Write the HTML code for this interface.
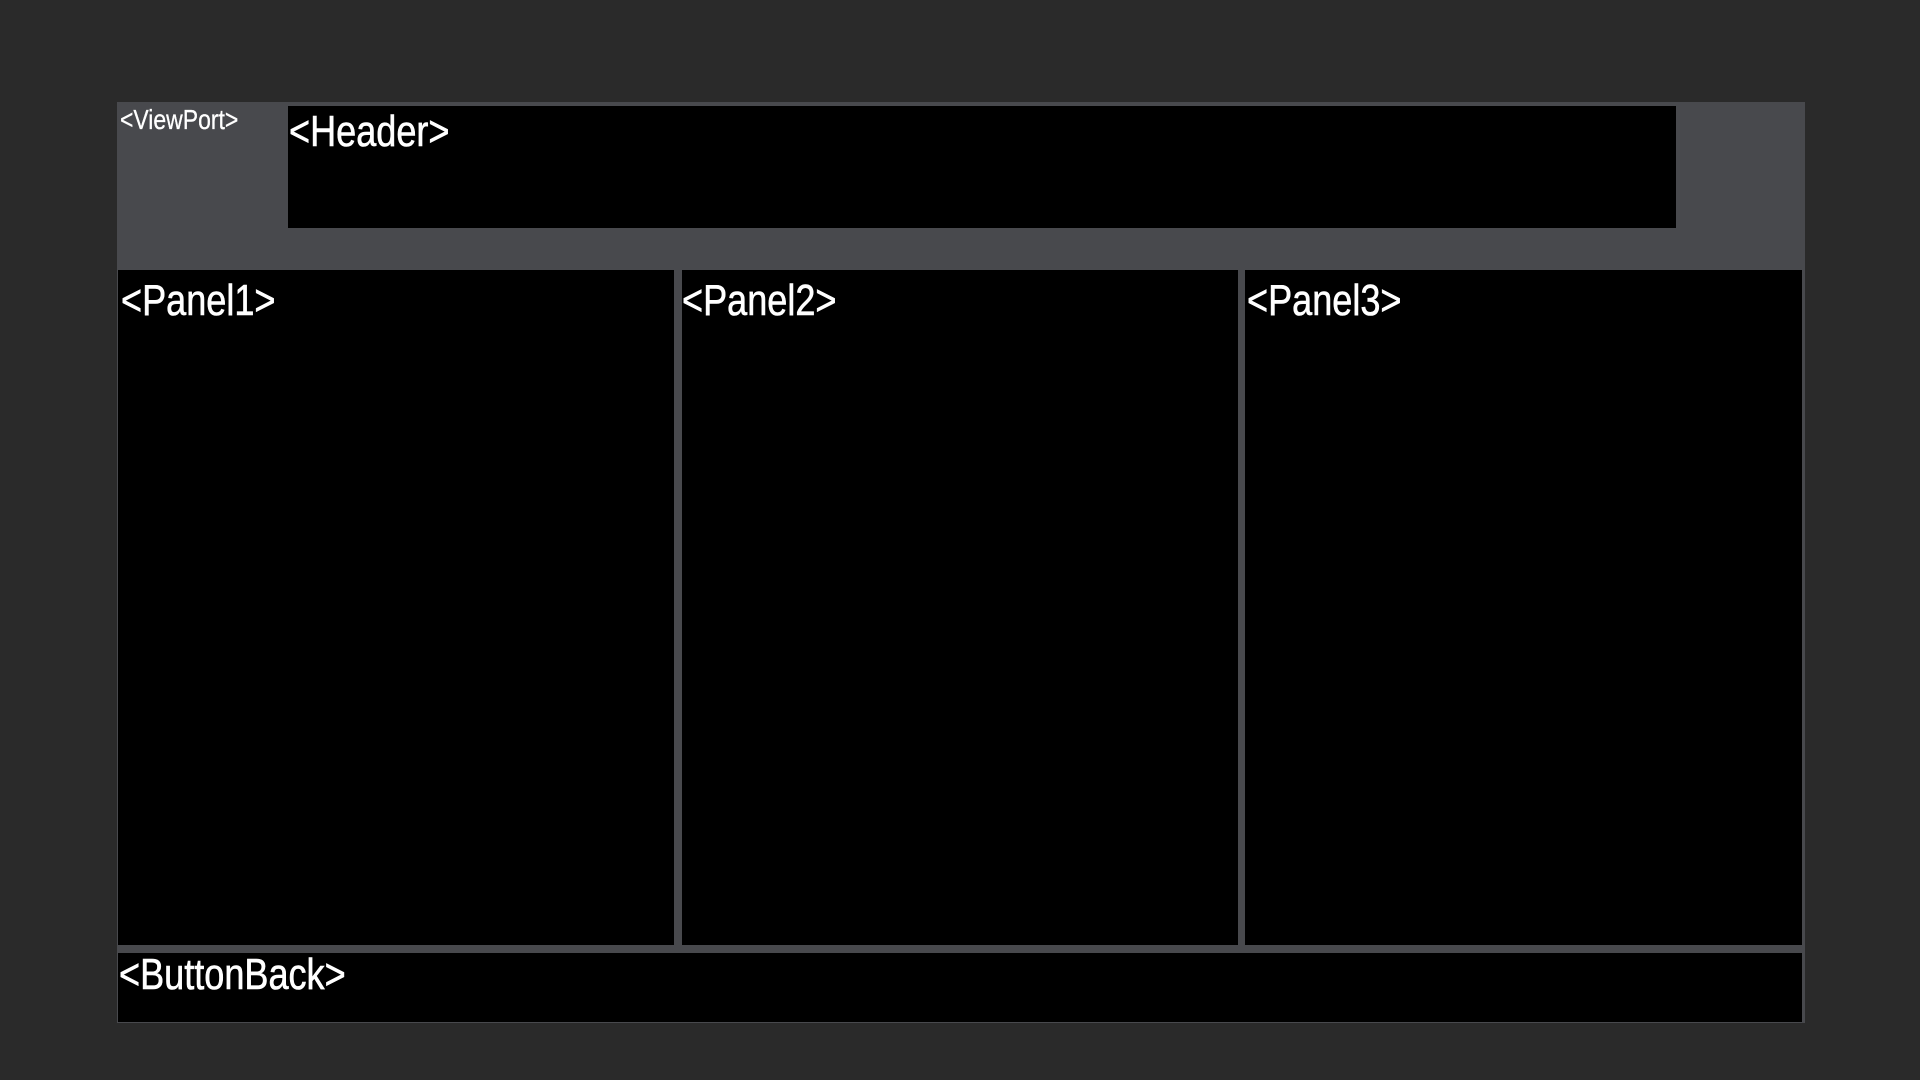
<!DOCTYPE html>
<html><head><meta charset="utf-8"><style>
html,body{margin:0;padding:0;width:1920px;height:1080px;background:#2a2a2a;overflow:hidden;font-family:"Liberation Sans",sans-serif;color:#fff}
div{position:absolute;box-sizing:border-box}
.vp{left:117px;top:102px;width:1688px;height:921px;background:#48494d}
.blk{background:#000}
.t{position:absolute;white-space:nowrap;line-height:1;transform:scaleX(0.82);transform-origin:0 0;-webkit-text-stroke:0.6px #fff}
</style></head><body>
<div class="vp"></div>
<div class="t" style="left:120px;top:106px;font-size:28px;-webkit-text-stroke:0.3px #fff">&lt;ViewPort&gt;</div>
<div class="blk" style="left:288px;top:106px;width:1388px;height:122px"></div>
<div class="t" style="left:289px;top:110px;font-size:44px">&lt;Header&gt;</div>
<div class="blk" style="left:118px;top:270px;width:556px;height:675px"></div>
<div class="blk" style="left:682px;top:270px;width:556px;height:675px"></div>
<div class="blk" style="left:1245px;top:270px;width:557px;height:675px"></div>
<div class="t" style="left:121px;top:279px;font-size:44px">&lt;Panel1&gt;</div>
<div class="t" style="left:682px;top:279px;font-size:44px">&lt;Panel2&gt;</div>
<div class="t" style="left:1247px;top:279px;font-size:44px">&lt;Panel3&gt;</div>
<div class="blk" style="left:118px;top:953px;width:1684px;height:69px"></div>
<div class="t" style="left:119px;top:953px;font-size:44px">&lt;ButtonBack&gt;</div>
</body></html>
